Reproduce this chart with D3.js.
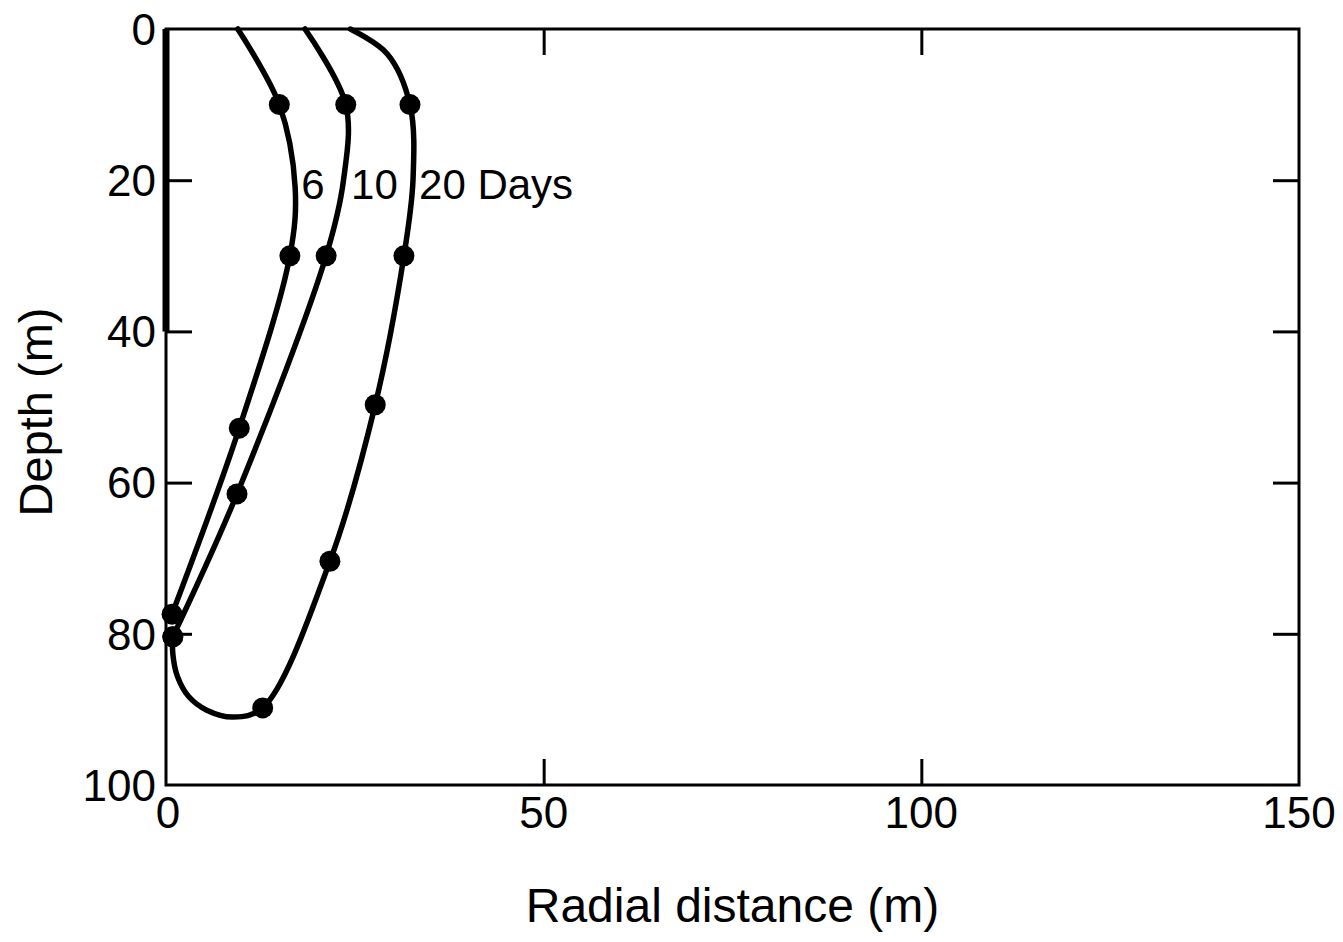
<!DOCTYPE html>
<html>
<head>
<meta charset="utf-8">
<script src="https://cdn.jsdelivr.net/npm/d3@7"></script>
<style>
  html, body { margin: 0; padding: 0; background: #fff; }
  svg { display: block; }
  text { font-family: "Liberation Sans", Arial, sans-serif; fill: #000; }
</style>
</head>
<body>
<svg id="chart" width="1343" height="942"></svg>
<script>
// Radial distance (m) and depth (m) along each front; mark = 1 where a measured point is plotted.
const days6 = [
  { r: 9.5, d: 0, mark: 0 },
  { r: 15.0, d: 10, mark: 1 },
  { r: 17.1, d: 21, mark: 0 },
  { r: 16.4, d: 30, mark: 1 },
  { r: 9.7, d: 52.8, mark: 1 },
  { r: 0.8, d: 77.4, mark: 1 }
];
const days10 = [
  { r: 18.4, d: 0, mark: 0 },
  { r: 23.8, d: 10, mark: 1 },
  { r: 23.5, d: 20, mark: 0 },
  { r: 21.2, d: 30, mark: 1 },
  { r: 9.4, d: 61.5, mark: 1 },
  { r: 0.9, d: 80.4, mark: 1 }
];
const days20 = [
  { r: 24.4, d: 0, mark: 0 },
  { r: 29.3, d: 3.3, mark: 0 },
  { r: 32.3, d: 10, mark: 1 },
  { r: 32.7, d: 20, mark: 0 },
  { r: 31.5, d: 30, mark: 1 },
  { r: 27.7, d: 49.7, mark: 1 },
  { r: 21.7, d: 70.4, mark: 1 },
  { r: 12.8, d: 89.8, mark: 1 },
  { r: 8.9, d: 91.0, mark: 0 },
  { r: 5.4, d: 90.1, mark: 0 },
  { r: 3.0, d: 88.3, mark: 0 },
  { r: 1.5, d: 85.6, mark: 0 },
  { r: 0.9, d: 82.6, mark: 0 },
  { r: 0.9, d: 80.4, mark: 1 }
];
const seriesLabels = [
  { text: "6", r: 17.9, d: 20.5 },
  { text: "10", r: 24.5, d: 20.5 },
  { text: "20 Days", r: 33.5, d: 20.5 }
];
const xTicks = [0, 50, 100, 150];
const yTicks = [0, 20, 40, 60, 80, 100];
const screenDepth = [0, 40]; // screened interval drawn on the depth axis

const svg = d3.select("#chart");
const plotLeft = 166, plotRight = 1299, plotTop = 29, plotBottom = 785;

const x = d3.scaleLinear().domain([0, 150]).range([plotLeft, plotRight]);
const y = d3.scaleLinear().domain([0, 100]).range([plotTop, plotBottom]);

// frame
svg.append("rect")
  .attr("x", plotLeft).attr("y", plotTop)
  .attr("width", plotRight - plotLeft).attr("height", plotBottom - plotTop)
  .attr("fill", "none").attr("stroke", "#000").attr("stroke-width", 3);

// inward ticks on all four sides
const tickLen = 26;
const noDomain = (sel) => sel.select(".domain").remove();
svg.append("g").attr("transform", `translate(0,${plotBottom})`)
  .call(d3.axisBottom(x).tickValues(xTicks.slice(1, -1)).tickSizeInner(-tickLen).tickSizeOuter(0).tickFormat(""))
  .call(noDomain);
svg.append("g").attr("transform", `translate(0,${plotTop})`)
  .call(d3.axisTop(x).tickValues(xTicks.slice(1, -1)).tickSizeInner(-tickLen).tickSizeOuter(0).tickFormat(""))
  .call(noDomain);
svg.append("g").attr("transform", `translate(${plotLeft},0)`)
  .call(d3.axisLeft(y).tickValues(yTicks.slice(1, -1)).tickSizeInner(-tickLen).tickSizeOuter(0).tickFormat(""))
  .call(noDomain);
svg.append("g").attr("transform", `translate(${plotRight},0)`)
  .call(d3.axisRight(y).tickValues(yTicks.slice(1, -1)).tickSizeInner(-tickLen).tickSizeOuter(0).tickFormat(""))
  .call(noDomain);
svg.selectAll(".tick line").attr("stroke", "#000").attr("stroke-width", 3);

// screened interval: heavy bar on the depth axis
svg.append("line")
  .attr("x1", x(0)).attr("x2", x(0))
  .attr("y1", y(screenDepth[0])).attr("y2", y(screenDepth[1]))
  .attr("stroke", "#000").attr("stroke-width", 7);

// tick labels
svg.append("g").selectAll("text").data(xTicks).join("text")
  .attr("x", d => x(d) + (d === 0 ? 2 : 0))
  .attr("y", plotBottom + 43)
  .attr("text-anchor", "middle")
  .attr("font-size", 44)
  .text(d => d);
svg.append("g").selectAll("text").data(yTicks).join("text")
  .attr("x", plotLeft - 10)
  .attr("y", d => y(d))
  .attr("dy", "0.36em")
  .attr("text-anchor", "end")
  .attr("font-size", 44)
  .text(d => d);

// axis titles
svg.append("text")
  .attr("x", (plotLeft + plotRight) / 2)
  .attr("y", 922)
  .attr("text-anchor", "middle")
  .attr("font-size", 48)
  .text("Radial distance (m)");
svg.append("text")
  .attr("transform", "translate(52,412) rotate(-90)")
  .attr("text-anchor", "middle")
  .attr("font-size", 47)
  .text("Depth (m)");

// fronts
const line = d3.line()
  .x(p => x(p.r)).y(p => y(p.d))
  .curve(d3.curveCatmullRom.alpha(0.5));

[days6, days10, days20].forEach(s => {
  svg.append("path")
    .attr("d", line(s))
    .attr("fill", "none")
    .attr("stroke", "#000")
    .attr("stroke-width", 5.5)
    .attr("stroke-linecap", "round")
    .attr("stroke-linejoin", "round");
  svg.append("g").selectAll("circle").data(s.filter(p => p.mark)).join("circle")
    .attr("cx", p => x(p.r)).attr("cy", p => y(p.d))
    .attr("r", 10.5)
    .attr("fill", "#000");
});

// curve labels
svg.append("g").selectAll("text").data(seriesLabels).join("text")
  .attr("x", p => x(p.r)).attr("y", p => y(p.d))
  .attr("dy", "0.36em")
  .attr("font-size", 42)
  .text(p => p.text);
</script>
</body>
</html>
